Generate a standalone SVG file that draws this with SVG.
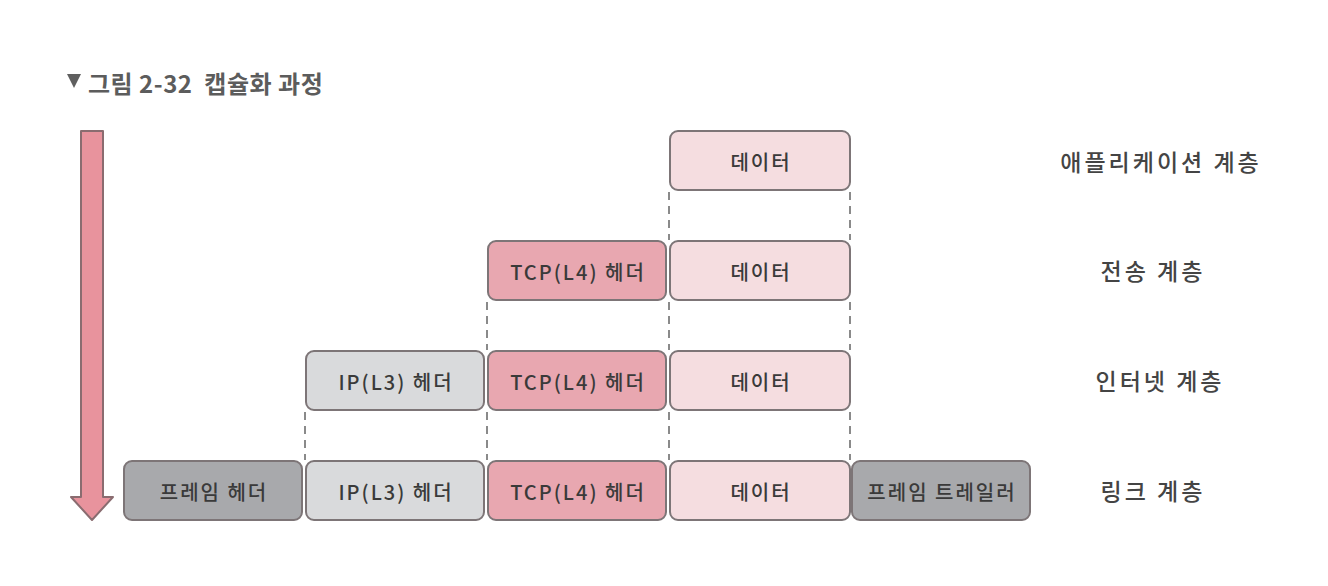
<svg xmlns="http://www.w3.org/2000/svg" width="1328" height="586" viewBox="0 0 1328 586">
<style>
.box{stroke:#7d7577;stroke-width:2}
.data{fill:#f5dde0}
.tcp{fill:#e8a7b0}
.ip{fill:#d9dadc}
.frm{fill:#a8a9ac}
.t{font-family:"Noto Sans CJK KR","Noto Sans",sans-serif;font-size:20px;fill:#3a3a3a;text-anchor:middle;dominant-baseline:central;font-weight:500;letter-spacing:2px}
.lbl{font-family:"Noto Sans CJK KR","Noto Sans",sans-serif;font-size:23px;fill:#444;text-anchor:middle;dominant-baseline:central;font-weight:500;letter-spacing:3px}
.dash{stroke:#8a8a8a;stroke-width:2;stroke-dasharray:8 6;fill:none}
</style>
<rect width="1328" height="586" fill="#ffffff"/>
<g id="title">
<polygon points="67,74 81,74 74,88" fill="#5f5f5f"/>
<text x="88" y="82" font-family="'Noto Sans CJK KR','Noto Sans',sans-serif" font-size="24" font-weight="bold" fill="#5c5c5c" dominant-baseline="central" letter-spacing="0.5" xml:space="preserve">그림 2-32  캡슐화 과정</text>
</g>
<g id="arrow">
<polygon points="81,131 103,131 103,497 113,497 92,520 71,497 81,497" fill="#e8939d" stroke="#8a6c70" stroke-width="2" stroke-linejoin="round"/>
</g>
<g id="connectors">
<line class="dash" x1="669" y1="192" x2="669" y2="240"/>
<line class="dash" x1="850" y1="192" x2="850" y2="240"/>
<line class="dash" x1="487" y1="302" x2="487" y2="350"/>
<line class="dash" x1="669" y1="302" x2="669" y2="350"/>
<line class="dash" x1="850" y1="302" x2="850" y2="350"/>
<line class="dash" x1="305" y1="412" x2="305" y2="460"/>
<line class="dash" x1="487" y1="412" x2="487" y2="460"/>
<line class="dash" x1="669" y1="412" x2="669" y2="460"/>
<line class="dash" x1="850" y1="412" x2="850" y2="460"/>
</g>
<g id="app-data"><rect class="box data" x="670" y="131" width="180" height="59" rx="8"/><text class="t" x="761" y="161">데이터</text></g>
<g id="tr-tcp"><rect class="box tcp" x="488" y="241" width="178" height="59" rx="8"/><text class="t" x="578" y="271">TCP(L4) 헤더</text></g>
<g id="tr-data"><rect class="box data" x="670" y="241" width="180" height="59" rx="8"/><text class="t" x="761" y="271">데이터</text></g>
<g id="in-ip"><rect class="box ip" x="306" y="351" width="178" height="59" rx="8"/><text class="t" x="396" y="381">IP(L3) 헤더</text></g>
<g id="in-tcp"><rect class="box tcp" x="488" y="351" width="178" height="59" rx="8"/><text class="t" x="578" y="381">TCP(L4) 헤더</text></g>
<g id="in-data"><rect class="box data" x="670" y="351" width="180" height="59" rx="8"/><text class="t" x="761" y="381">데이터</text></g>
<g id="ln-frame"><rect class="box frm" x="124" y="461" width="178" height="59" rx="8"/><text class="t" x="214" y="491">프레임 헤더</text></g>
<g id="ln-ip"><rect class="box ip" x="306" y="461" width="178" height="59" rx="8"/><text class="t" x="396" y="491">IP(L3) 헤더</text></g>
<g id="ln-tcp"><rect class="box tcp" x="488" y="461" width="178" height="59" rx="8"/><text class="t" x="578" y="491">TCP(L4) 헤더</text></g>
<g id="ln-data"><rect class="box data" x="670" y="461" width="180" height="59" rx="8"/><text class="t" x="761" y="491">데이터</text></g>
<g id="ln-trailer"><rect class="box frm" x="852" y="461" width="178" height="59" rx="8"/><text class="t" x="942" y="491">프레임 트레일러</text></g>
<g id="labels">
<text class="lbl" x="1161" y="161">애플리케이션 계층</text>
<text class="lbl" x="1153" y="270">전송 계층</text>
<text class="lbl" x="1160" y="380">인터넷 계층</text>
<text class="lbl" x="1153" y="490">링크 계층</text>
</g>
</svg>
